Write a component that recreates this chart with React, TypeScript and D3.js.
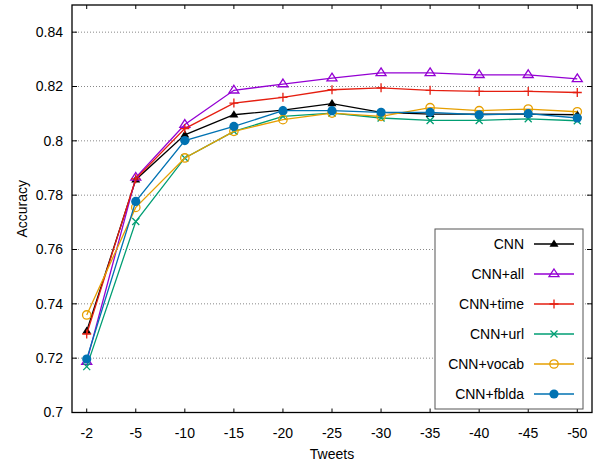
import React from 'react';
import * as d3 from 'd3';

// x categories (number of tweets)
const tweets = ['-2', '-5', '-10', '-15', '-20', '-25', '-30', '-35', '-40', '-45', '-50'];
const yTicks = [0.7, 0.72, 0.74, 0.76, 0.78, 0.8, 0.82, 0.84];

const cnn = [0.730, 0.7857, 0.8022, 0.8096, 0.8113, 0.8137, 0.8105, 0.8098, 0.8098, 0.8098, 0.8096];
const cnnAll = [0.7187, 0.7865, 0.806, 0.8186, 0.8209, 0.8231, 0.825, 0.825, 0.8243, 0.8243, 0.8228];
const cnnTime = [0.7289, 0.786, 0.8045, 0.8139, 0.816, 0.8188, 0.8195, 0.8186, 0.8182, 0.8182, 0.8178];
const cnnUrl = [0.7169, 0.7703, 0.7937, 0.8035, 0.809, 0.8102, 0.8084, 0.8075, 0.8075, 0.8081, 0.8074];
const cnnVocab = [0.7359, 0.7755, 0.7937, 0.8035, 0.8078, 0.8102, 0.809, 0.8122, 0.8111, 0.8117, 0.8107];
const cnnFblda = [0.7197, 0.7777, 0.8001, 0.8053, 0.8111, 0.8111, 0.8105, 0.8105, 0.8096, 0.81, 0.8084];

const series = [
  { name: 'CNN', values: cnn, color: '#000000', marker: 'triFill' },
  { name: 'CNN+all', values: cnnAll, color: '#9400d3', marker: 'tri' },
  { name: 'CNN+time', values: cnnTime, color: '#e51e10', marker: 'plus' },
  { name: 'CNN+url', values: cnnUrl, color: '#009e73', marker: 'cross' },
  { name: 'CNN+vocab', values: cnnVocab, color: '#e69f00', marker: 'circle' },
  { name: 'CNN+fblda', values: cnnFblda, color: '#0072b2', marker: 'dot' },
];

const W = 600, H = 462;
const left = 72, right = 592, top = 5, bottom = 412.5;
const font = '"Liberation Sans", Arial, sans-serif';

function Marker({ type, x, y, color }: { type: string; x: number; y: number; color: string }) {
  const s = 4.5;
  switch (type) {
    case 'triFill':
      return <path d={`M${x},${y - s}L${x + s},${y + s * 0.6}L${x - s},${y + s * 0.6}Z`} fill={color} />;
    case 'tri':
      return <path d={`M${x},${y - s - 0.5}L${x + s + 0.5},${y + s * 0.6}L${x - s - 0.5},${y + s * 0.6}Z`} fill="none" stroke={color} strokeWidth={1.3} />;
    case 'plus':
      return <path d={`M${x - s},${y}H${x + s}M${x},${y - s}V${y + s}`} stroke={color} strokeWidth={1.3} />;
    case 'cross':
      return <path d={`M${x - 3.5},${y - 3.5}L${x + 3.5},${y + 3.5}M${x - 3.5},${y + 3.5}L${x + 3.5},${y - 3.5}`} stroke={color} strokeWidth={1.3} />;
    case 'circle':
      return <circle cx={x} cy={y} r={4.2} fill="none" stroke={color} strokeWidth={1.3} />;
    default:
      return <circle cx={x} cy={y} r={4.6} fill={color} />;
  }
}

export default function App() {
  const x = d3.scaleLinear().domain([-0.3, tweets.length - 1 + 0.3]).range([left, right]);
  const y = d3.scaleLinear().domain([0.7, 0.85]).range([bottom, top]);
  const line = d3.line<number>().x((_, i) => x(i)).y(d => y(d));

  const legX = 435, legY = 229, legW = 148, legH = 180;

  return (
    <svg width={W} height={H} style={{ position: 'absolute', left: 0, top: 0 }} fontFamily={font}>
      <rect width={W} height={H} fill="#fff" />
      {/* grid */}
      {yTicks.map(t => (
        <line key={'g' + t} x1={left} x2={right} y1={y(t)} y2={y(t)} stroke="#888" strokeWidth={1} strokeDasharray="1,2" />
      ))}
      {/* ticks */}
      {yTicks.map(t => (
        <g key={'t' + t}>
          <line x1={left} x2={left + 5} y1={y(t)} y2={y(t)} stroke="#000" />
          <line x1={right - 5} x2={right} y1={y(t)} y2={y(t)} stroke="#000" />
          <text x={left - 9} y={y(t)} dy="0.35em" textAnchor="end" fontSize={14} fill="#000">{d3.format('')(+t.toFixed(2))}</text>
        </g>
      ))}
      {tweets.map((t, i) => (
        <g key={'x' + t}>
          <line x1={x(i)} x2={x(i)} y1={bottom} y2={bottom - 4} stroke="#000" />
          <line x1={x(i)} x2={x(i)} y1={top} y2={top + 4} stroke="#000" />
          <text x={x(i)} y={438} textAnchor="middle" fontSize={14} fill="#000">{t}</text>
        </g>
      ))}
      <text x={left + (right - left) / 2} y={459} textAnchor="middle" fontSize={14}>Tweets</text>
      <text transform={`translate(27,${(top + bottom) / 2}) rotate(-90)`} textAnchor="middle" fontSize={14}>Accuracy</text>

      {/* series */}
      {series.map(s => (
        <g key={s.name}>
          <path d={line(s.values) || ''} fill="none" stroke={s.color} strokeWidth={1.3} />
          {s.values.map((v, i) => <Marker key={i} type={s.marker} x={x(i)} y={y(v)} color={s.color} />)}
        </g>
      ))}

      {/* legend */}
      <rect x={legX} y={legY} width={legW} height={legH} fill="#fff" stroke="#555" strokeWidth={1} />
      {series.map((s, i) => {
        const ly = legY + 15 + i * 30;
        return (
          <g key={'l' + s.name}>
            <text x={524} y={ly} dy="0.35em" textAnchor="end" fontSize={14}>{s.name}</text>
            <line x1={534} x2={574} y1={ly} y2={ly} stroke={s.color} strokeWidth={1.3} />
            <Marker type={s.marker} x={554} y={ly} color={s.color} />
          </g>
        );
      })}

      <rect x={left} y={top} width={right - left} height={bottom - top} fill="none" stroke="#000" strokeWidth={1.3} />
    </svg>
  );
}
